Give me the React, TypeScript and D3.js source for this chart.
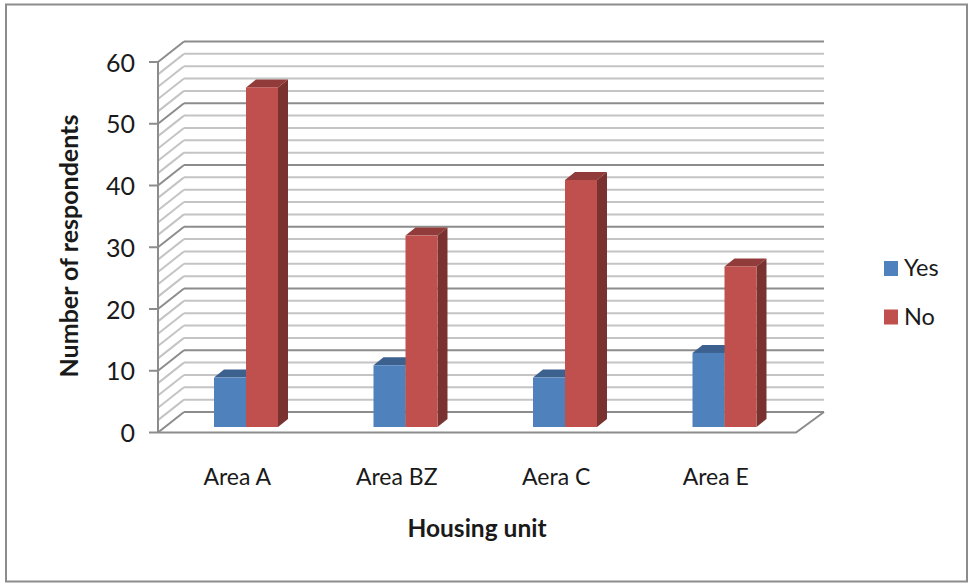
import React from "react";
import * as d3 from "d3";

const categories = ["Area A", "Area BZ", "Aera C", "Area E"];
const yesValues = [8, 10, 8, 12];
const noValues = [55, 31, 40, 26];
const majorTicks = [0, 10, 20, 30, 40, 50, 60];
const minorTicks = d3.range(0, 61, 2);
const seriesNames = ["Yes", "No"];

const FONT = "Lato, 'Open Sans', sans-serif";
const TEXT = "#1a1a1a";
const GRID_MINOR = "#c4c4c4";
const GRID_MAJOR = "#8c8c8c";

// Offset of the back wall from the front plane of the 3D box.
const WALL_DX = 26;
const WALL_DY = -20.5;
// Bars sit a little way into the floor and have their own depth.
const BAR_BASE = 427;
const BAR_DX = 10;
const BAR_DY = -8;

const x = d3.scaleBand<string>().domain(categories).range([158, 796]);
const y = d3.scaleLinear().domain([0, 60]).range([432.5, 62]);
const barHeight = d3.scaleLinear().domain([0, 60]).range([0, 370.5]);

const BAR_W = 32;
const BAR_OFFSET = 56;

const palette = {
  Yes: { front: "#4f81bd", top: "#3c618e", side: "#31506f" },
  No: { front: "#c0504d", top: "#913c3a", side: "#7a3230" },
};

function Bar({ left, value, tone }: { left: number; value: number; tone: typeof palette.Yes }) {
  const top = BAR_BASE - barHeight(value);
  const right = left + BAR_W;
  const poly = (pts: number[][]) => pts.map((p) => p.join(",")).join(" ");
  return (
    <g>
      <polygon
        points={poly([[left, top], [right, top], [right + BAR_DX, top + BAR_DY], [left + BAR_DX, top + BAR_DY]])}
        fill={tone.top}
      />
      <polygon
        points={poly([[right, top], [right + BAR_DX, top + BAR_DY], [right + BAR_DX, BAR_BASE + BAR_DY], [right, BAR_BASE]])}
        fill={tone.side}
      />
      <rect x={left} y={top} width={BAR_W} height={barHeight(value)} fill={tone.front} />
    </g>
  );
}

export default function App() {
  const x0 = x.range()[0];
  const x1 = x.range()[1];
  const floorPath = d3.line()([
    [x0, y(0)],
    [x1, y(0)],
    [x1 + WALL_DX + 2, y(0) + WALL_DY],
  ]) as string;

  return (
    <svg
      width={973}
      height={586}
      style={{ position: "absolute", left: 0, top: 0, background: "#fff" }}
    >
      <rect x={6} y={4.5} width={961} height={577} fill="#fff" stroke="#8c8c8c" strokeWidth={2} />

      {/* side wall diagonals and back wall lines */}
      {minorTicks.map((t) => {
        const major = t % 10 === 0;
        const stroke = major ? GRID_MAJOR : GRID_MINOR;
        return (
          <g key={t} stroke={stroke} strokeWidth={2} fill="none">
            <line x1={x0} y1={y(t)} x2={x0 + WALL_DX} y2={y(t) + WALL_DY} />
            <line x1={x0 + WALL_DX} y1={y(t) + WALL_DY} x2={x1 + WALL_DX + 2} y2={y(t) + WALL_DY} />
          </g>
        );
      })}

      {/* floor edges and value axis */}
      <path d={floorPath} fill="none" stroke={GRID_MAJOR} strokeWidth={2} />
      <line x1={x0} y1={y(0)} x2={x0} y2={y(60)} stroke={GRID_MAJOR} strokeWidth={2} />

      {majorTicks.map((t) => (
        <g key={t}>
          <line x1={149} y1={y(t)} x2={x0} y2={y(t)} stroke={GRID_MAJOR} strokeWidth={2} />
          <text x={135} y={y(t) + 9.5} fontFamily={FONT} fontSize={25} fill={TEXT} textAnchor="end">
            {t}
          </text>
        </g>
      ))}

      {categories.map((c, i) => {
        const left = (x(c) as number) + BAR_OFFSET;
        return (
          <g key={c}>
            <Bar left={left} value={yesValues[i]} tone={palette.Yes} />
            <Bar left={left + BAR_W} value={noValues[i]} tone={palette.No} />
            <text
              x={(x(c) as number) + x.bandwidth() / 2 - 0.5}
              y={485}
              fontFamily={FONT}
              fontSize={23}
              fill={TEXT}
              textAnchor="middle"
            >
              {c}
            </text>
          </g>
        );
      })}

      <text
        transform="translate(78,246) rotate(-90)"
        fontFamily={FONT}
        fontSize={25}
        fontWeight={700}
        fill={TEXT}
        textAnchor="middle"
      >
        Number of respondents
      </text>
      <text x={477} y={537} fontFamily={FONT} fontSize={24.5} fontWeight={700} fill={TEXT} textAnchor="middle">
        Housing unit
      </text>

      {seriesNames.map((name, i) => (
        <g key={name}>
          <rect x={884} y={261 + i * 48.5} width={14} height={15} fill={i === 0 ? palette.Yes.front : palette.No.front} />
          <text x={904} y={276 + i * 48.5} fontFamily={FONT} fontSize={23.5} fill={TEXT}>
            {name}
          </text>
        </g>
      ))}
    </svg>
  );
}
